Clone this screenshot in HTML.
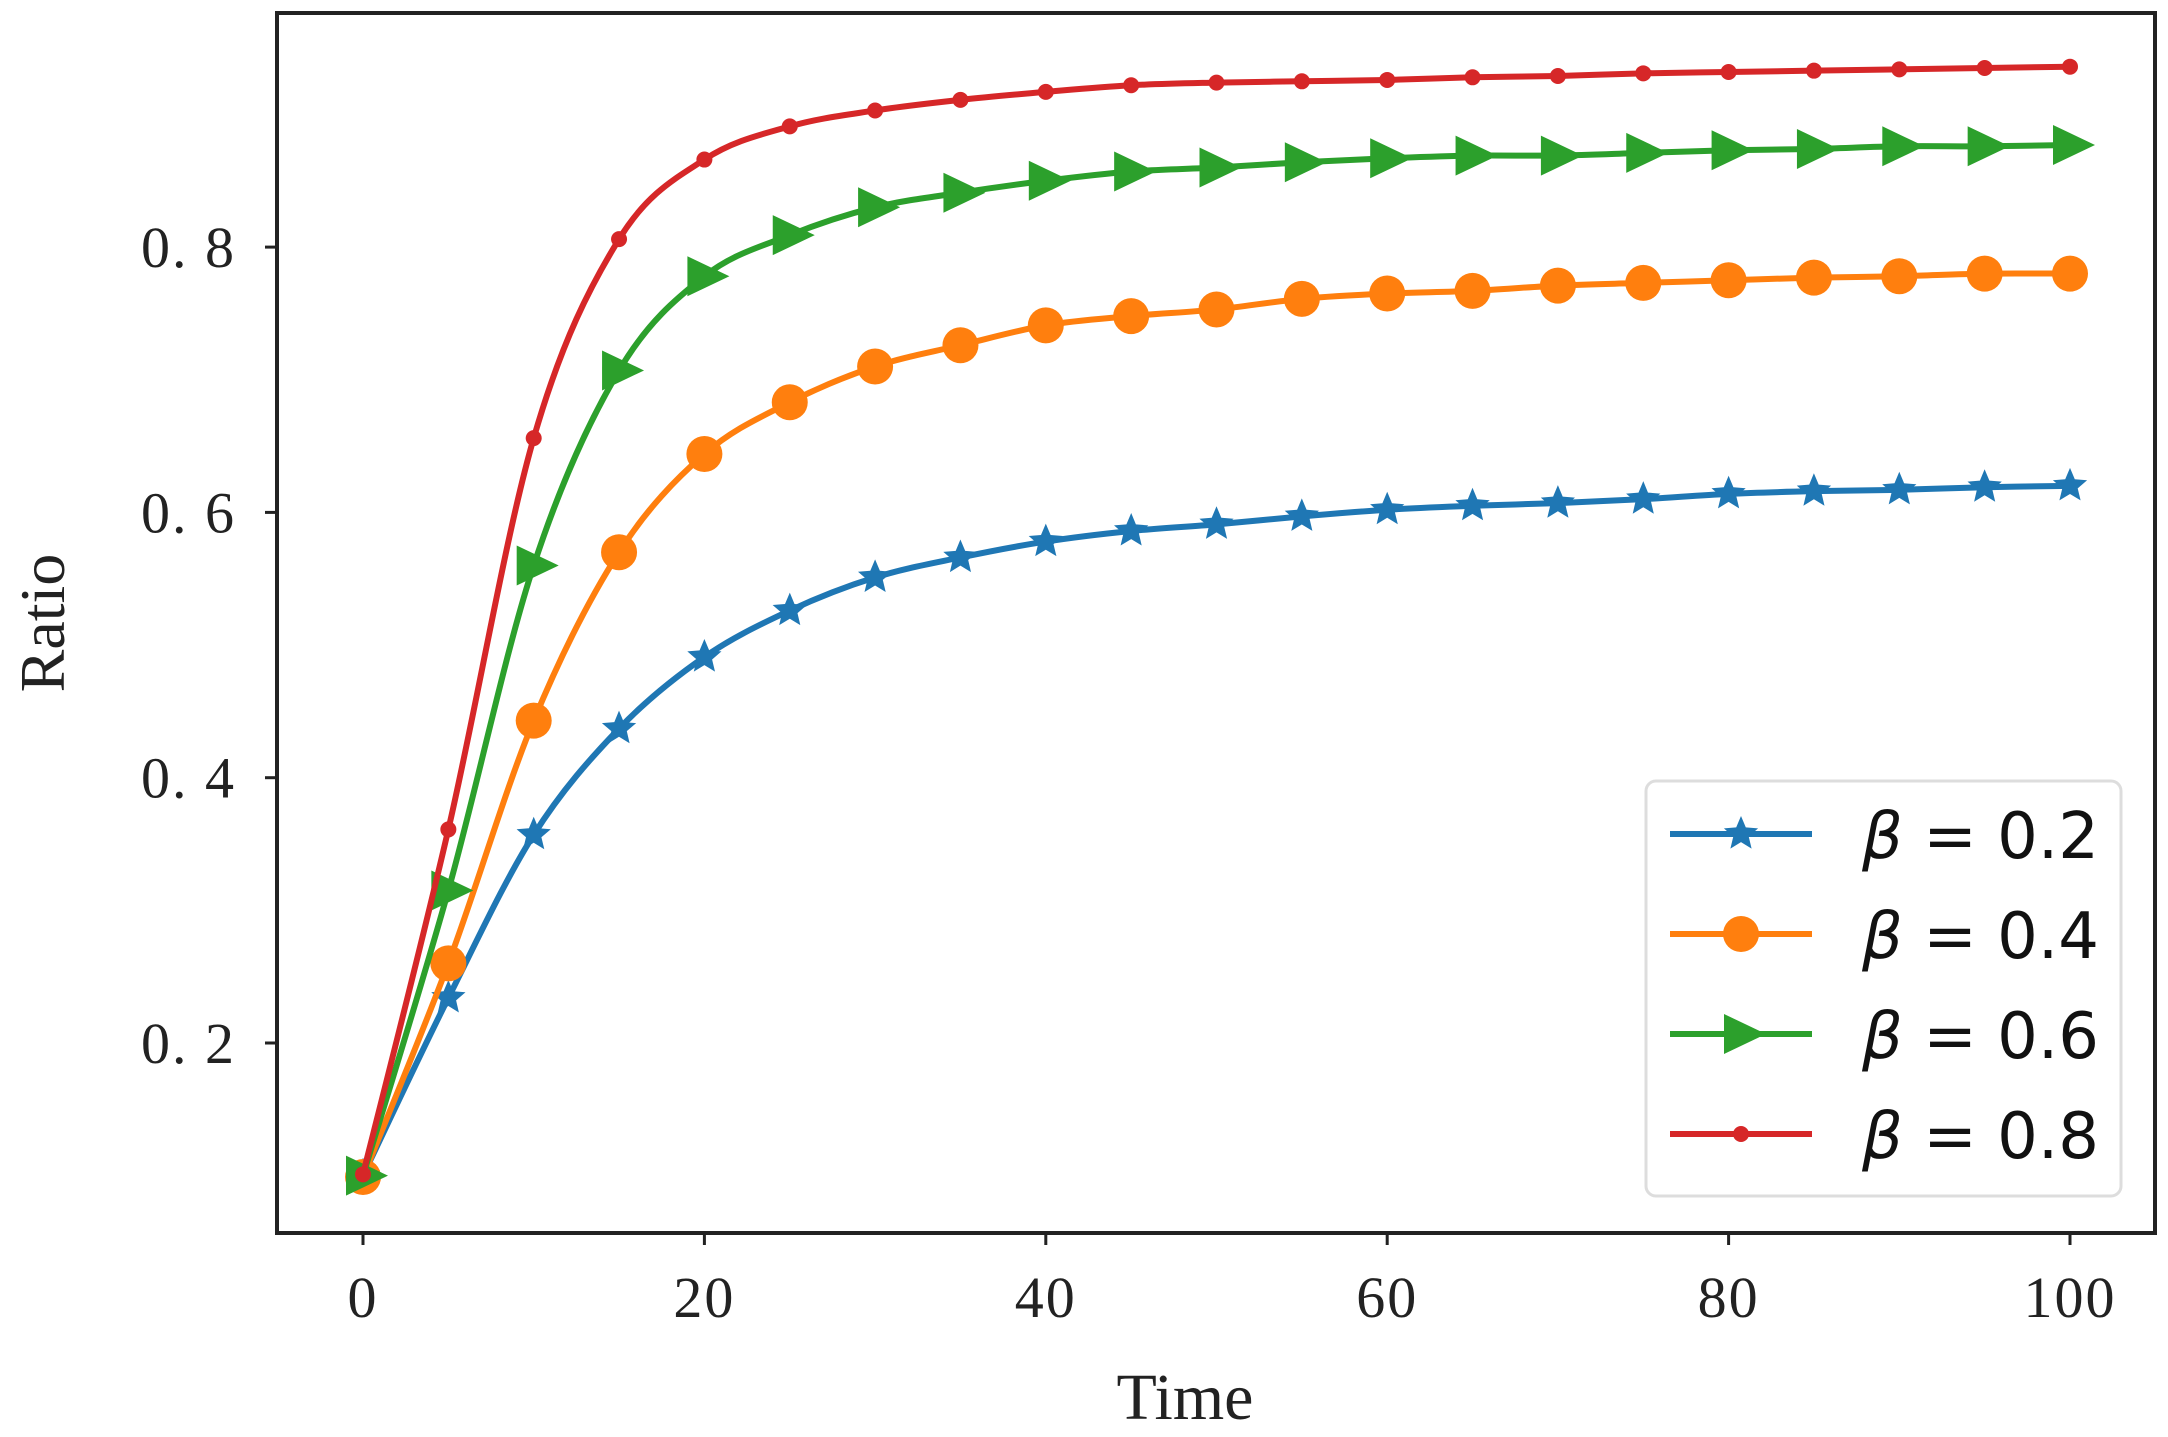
<!DOCTYPE html>
<html><head><meta charset="utf-8"><style>
html,body{margin:0;padding:0;background:#fff;}
svg{display:block;}
</style></head><body>
<svg id="chart" width="2168" height="1437" viewBox="0 0 2168 1437" xmlns="http://www.w3.org/2000/svg">
<rect x="0" y="0" width="2168" height="1437" fill="#fff"/>
<g id="plot"></g>
<rect x="277" y="13" width="1878" height="1220" fill="none" stroke="#222" stroke-width="4"/>
<g id="axes"></g>
<text transform="translate(64,623) rotate(-90)" text-anchor="middle" font-family="Liberation Serif, serif" font-size="64" fill="#222">Ratio</text>
<text x="1185" y="1419" text-anchor="middle" font-family="Liberation Serif, serif" font-size="66" fill="#222">Time</text>
<g id="legend">
<rect x="1646" y="781" width="475" height="415" rx="10" fill="#fff" fill-opacity="0.85" stroke="#ddd" stroke-width="3"/>
</g>
</svg>
<script>
const times = [0,5,10,15,20,25,30,35,40,45,50,55,60,65,70,75,80,85,90,95,100];
const beta02 = [0.1,0.234,0.357,0.437,0.491,0.526,0.551,0.566,0.578,0.586,0.591,0.597,0.602,0.605,0.607,0.61,0.614,0.616,0.617,0.619,0.62];
const beta04 = [0.099,0.26,0.443,0.57,0.644,0.683,0.71,0.726,0.741,0.748,0.753,0.761,0.765,0.767,0.771,0.773,0.775,0.777,0.778,0.78,0.78];
const beta06 = [0.1,0.315,0.56,0.707,0.778,0.809,0.83,0.841,0.85,0.857,0.86,0.864,0.867,0.869,0.869,0.871,0.873,0.874,0.876,0.876,0.877];
const beta08 = [0.101,0.361,0.656,0.806,0.866,0.891,0.903,0.911,0.917,0.922,0.924,0.925,0.926,0.928,0.929,0.931,0.932,0.933,0.934,0.935,0.936];
const xTicks = [0,20,40,60,80,100];
const yTicks = [0.2,0.4,0.6,0.8];
const yTickLabels = ["0. 2","0. 4","0. 6","0. 8"];
const seriesLabels = ["β = 0.2","β = 0.4","β = 0.6","β = 0.8"];

const NS="http://www.w3.org/2000/svg";
function X(v){return 363+(v/20)*341.4;}
function Y(v){return 1043-(v-0.2)/0.2*265.3;}
function mk(tag,attrs,parent){const e=document.createElementNS(NS,tag);for(const k in attrs)e.setAttribute(k,attrs[k]);parent.appendChild(e);return e;}
const plot=document.getElementById('plot'), axes=document.getElementById('axes'), legend=document.getElementById('legend');

xTicks.forEach(t=>{
  const l=mk('line',{x1:X(t),x2:X(t),y1:1233,y2:1245,stroke:'#222','stroke-width':3},axes);
  
  
  const tx=mk('text',{x:X(t),y:1317,'text-anchor':'middle','font-family':'Liberation Serif, serif','font-size':58,'letter-spacing':2,fill:'#222'},axes);
  tx.textContent=t;
  
  
});
yTicks.forEach((t,i)=>{
  const l=mk('line',{x1:265,x2:277,y1:Y(t),y2:Y(t),stroke:'#222','stroke-width':3},axes);
  
  
  const tx=mk('text',{x:236,y:Y(t)+20,'text-anchor':'end','font-family':'Liberation Serif, serif','font-size':58,'letter-spacing':2,fill:'#222'},axes);
  tx.textContent=yTickLabels[i];
  
  
});

function smoothPath(pts){
  let d='M'+pts[0][0]+','+pts[0][1];
  for(let i=0;i<pts.length-1;i++){
    const p0=pts[i-1]||pts[i],p1=pts[i],p2=pts[i+1],p3=pts[i+2]||p2;
    const c1=[p1[0]+(p2[0]-p0[0])/6,p1[1]+(p2[1]-p0[1])/6];
    const c2=[p2[0]-(p3[0]-p1[0])/6,p2[1]-(p3[1]-p1[1])/6];
    d+=' C'+c1+' '+c2+' '+p2;
  }
  return d;
}
function star(cx,cy,r){let p=[];for(let i=0;i<10;i++){const a=-Math.PI/2+i*Math.PI/5;const rr=i%2?r*0.45:r;p.push((cx+rr*Math.cos(a)).toFixed(1)+','+(cy+rr*Math.sin(a)).toFixed(1));}return p.join(' ');}
function marker(kind,cx,cy,color,parent){
  if(kind==='star') return mk('polygon',{points:star(cx,cy,18),fill:color},parent);
  if(kind==='circle') return mk('circle',{cx:cx,cy:cy,r:18,fill:color},parent);
  if(kind==='tri') return mk('polygon',{points:(cx-17)+','+(cy-20)+' '+(cx+25)+','+cy+' '+(cx-17)+','+(cy+20),fill:color},parent);
  return mk('circle',{cx:cx,cy:cy,r:8,fill:color},parent);
}
const series=[
  {name:'beta-0.2',vals:beta02,color:'#1f77b4',m:'star'},
  {name:'beta-0.4',vals:beta04,color:'#ff7f0e',m:'circle'},
  {name:'beta-0.6',vals:beta06,color:'#2ca02c',m:'tri'},
  {name:'beta-0.8',vals:beta08,color:'#d62728',m:'dot'}
];
series.forEach((s,si)=>{
  const g=mk('g',{},plot);
  
  
  const pts=times.map((t,i)=>[X(t),Y(s.vals[i])]);
  const p=mk('path',{d:smoothPath(pts),fill:'none',stroke:s.color,'stroke-width':6},g);
  
  
  pts.forEach(pt=>{
    const m=marker(s.m,pt[0],pt[1],s.color,g);
    
    
  });
  const ly=834+si*100;
  const lg=mk('g',{},legend);
  
  
  mk('line',{x1:1670,x2:1812,y1:ly,y2:ly,stroke:s.color,'stroke-width':6},lg);
  marker(s.m,1741,ly,s.color,lg);
  const tx=mk('text',{x:1862,y:ly+24,'font-family':'DejaVu Sans, sans-serif','font-size':64,fill:'#111'},lg);
  tx.innerHTML='<tspan font-style="italic">β</tspan> = '+seriesLabels[si].split('= ')[1];
});
</script>
</body></html>
